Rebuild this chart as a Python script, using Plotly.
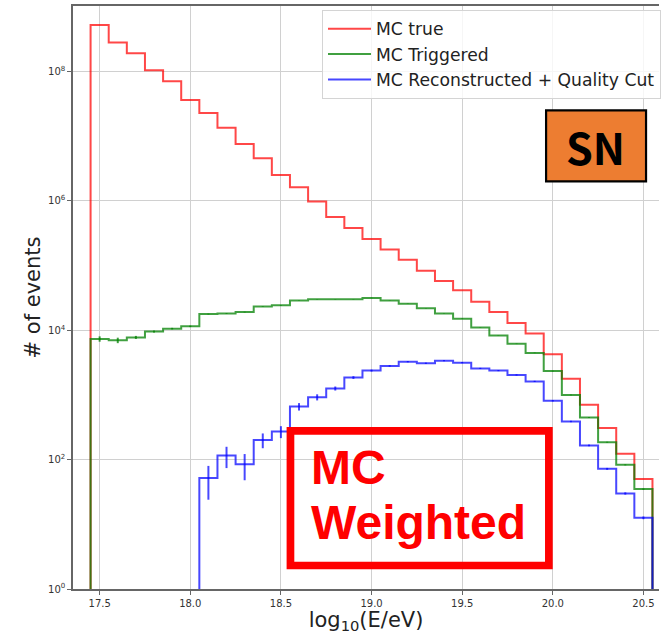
import numpy as np
import plotly.graph_objects as go

# Histogram binning in log10(E/eV)
bin_centers = [17.5, 17.6, 17.7, 17.8, 17.9, 18.0, 18.1, 18.2, 18.3, 18.4, 18.5,
               18.6, 18.7, 18.8, 18.9, 19.0, 19.1, 19.2, 19.3, 19.4, 19.5, 19.6,
               19.7, 19.8, 19.9, 20.0, 20.1, 20.2, 20.3, 20.4, 20.5]
bin_width = 0.1

# Weighted event counts per bin
mc_true = [5.25e8, 2.82e8, 1.91e8, 1.05e8, 7.08e7, 3.63e7, 2.29e7, 1.35e7, 7.59e6,
           4.57e6, 2.51e6, 1.62e6, 9.77e5, 5.62e5, 3.80e5, 2.57e5, 1.78e5, 1.23e5,
           8.32e4, 5.75e4, 4.17e4, 2.75e4, 1.91e4, 1.29e4, 8.91e3, 4.27e3, 1.78e3,
           708, 309, 123, 50]
mc_triggered = [7350, 7000, 7760, 9550, 10600, 11500, 17800, 18200, 19100, 23400,
                24300, 28800, 30200, 30200, 30200, 31600, 28800, 25700, 21900, 18200,
                15100, 11000, 8320, 6170, 4470, 2340, 1000, 447, 186, 83, 35]
mc_reco = [None, None, None, None, None, None, 52, 116, 85, 202, 272, 661, 923,
           1260, 1860, 2380, 2810, 3270, 3090, 3390, 3160, 2570, 2380, 2040, 1620,
           813, 389, 166, 72, 30, 12.6]

# Statistical uncertainties of the weighted counts
err_triggered = [700, 680, 420, 350, 300, 300, 260, 240, 230, 240, 230, 220, 200,
                 190, 180, 170, 160, 150, 130, 110, 100, 80, 60, 50, 40, 25, 12, 6,
                 3, 1.5, 0.8]
err_reco = [None, None, None, None, None, None, 28, 42, 37, 52, 57, 87, 100, 90,
            90, 80, 75, 75, 70, 70, 65, 55, 50, 45, 35, 20, 10, 5, 2.5, 1.2, 0.6]

labels = ["MC true", "MC Triggered", "MC Reconstructed + Quality Cut"]
colors = ["rgba(255,0,0,0.72)", "rgba(0,128,0,0.75)", "rgba(0,0,255,0.72)"]

x_ticks = [17.5, 18.0, 18.5, 19.0, 19.5, 20.0, 20.5]
y_ticks = [1, 1e2, 1e4, 1e6, 1e8]
y_ticktext = ["10<sup>0</sup>", "10<sup>2</sup>", "10<sup>4</sup>",
              "10<sup>6</sup>", "10<sup>8</sup>"]

FLOOR = 1e-3  # below the visible log range, so the outline drops to the axis


def step_outline(centers, values):
    """Outline of a step histogram: rises from the floor, steps, falls back."""
    pairs = [(c, v) for c, v in zip(centers, values) if v is not None]
    lefts = [round(c - bin_width / 2, 3) for c, _ in pairs]
    right = round(pairs[-1][0] + bin_width / 2, 3)
    vals = [v for _, v in pairs]
    xs = [lefts[0]] + lefts + [right, right]
    ys = [FLOOR] + vals + [vals[-1], FLOOR]
    return xs, ys


fig = go.Figure()

for name, vals, col in zip(labels, [mc_true, mc_triggered, mc_reco], colors):
    xs, ys = step_outline(bin_centers, vals)
    fig.add_trace(go.Scatter(x=xs, y=ys, mode="lines", name=name,
                             line=dict(color=col, width=2, shape="hv")))

# error bars at the bin centres
for vals, errs, col in [(mc_triggered, err_triggered, colors[1]),
                        (mc_reco, err_reco, colors[2])]:
    xs = [c for c, v in zip(bin_centers, vals) if v is not None]
    ys = [v for v in vals if v is not None]
    es = [e for e, v in zip(errs, vals) if v is not None]
    fig.add_trace(go.Scatter(x=xs, y=ys, mode="markers", showlegend=False,
                             marker=dict(size=1, color="rgba(0,0,0,0)"),
                             error_y=dict(type="data", array=es, visible=True,
                                          color=col, thickness=2, width=0),
                             hoverinfo="skip"))

# pixel -> paper helpers for the overlay boxes
L, R, T, B = 73, 661, 6, 589


def px(x):
    return (x - L) / (R - L)


def py(y):
    return (B - y) / (B - T)


shapes = [
    dict(type="rect", xref="paper", yref="paper",
         x0=px(547.7), x1=px(648.0), y0=py(181.3), y1=py(110.3),
         fillcolor="#ED7D31", line=dict(color="black", width=2.2), layer="above"),
    dict(type="rect", xref="paper", yref="paper",
         x0=px(291.2), x1=px(550.5), y0=py(565.5), y1=py(430.8),
         fillcolor="rgba(0,0,0,0)", line=dict(color="#FF0000", width=7.7),
         layer="above"),
]

BIG = 48  # font size of the "MC Weighted" label
annotations = [
    dict(text="<b>SN</b>", xref="paper", yref="paper", x=px(597.5), y=py(145.5),
         xanchor="center", yanchor="middle", showarrow=False,
         font=dict(family="Noto Sans CJK JP", size=43, color="black")),
    dict(text="<b>MC</b>", xref="paper", yref="paper", x=px(311),
         y=py(485 + 0.212 * BIG), xanchor="left", yanchor="bottom",
         showarrow=False, borderpad=0,
         font=dict(family="Liberation Sans", size=BIG, color="#FF0000")),
    dict(text="<b>Weighted</b>", xref="paper", yref="paper", x=px(311),
         y=py(540 + 0.212 * BIG), xanchor="left", yanchor="bottom",
         showarrow=False, borderpad=0,
         font=dict(family="Liberation Sans", size=BIG, color="#FF0000")),
]

fig.update_layout(
    width=661, height=634,
    margin=dict(l=L, r=661 - R, t=T, b=634 - B),
    paper_bgcolor="white", plot_bgcolor="white",
    font=dict(family="DejaVu Sans", color="#333"),
    shapes=shapes, annotations=annotations,
    legend=dict(x=px(323), y=py(10), xanchor="left", yanchor="top",
                itemwidth=43,
                bgcolor="rgba(255,255,255,0.8)", bordercolor="#d4d4d4",
                borderwidth=1, font=dict(family="DejaVu Sans", size=17.2,
                                         color="#222")),
)

fig.update_xaxes(
    range=[17.353, 20.586], tickvals=x_ticks,
    ticktext=[f"{t:.1f}" for t in x_ticks],
    showgrid=True, gridcolor="#d0d0d0", gridwidth=1.2,
    showline=True, linecolor="#666", linewidth=1.5, mirror=True,
    ticks="outside", ticklen=4, tickcolor="#666",
    tickfont=dict(size=10, color="#333"), zeroline=False,
    title=dict(text="log<sub>10</sub>(E/eV)", font=dict(size=21, color="#222"),
               standoff=6),
)
fig.update_yaxes(
    type="log", range=[0, 9.013], tickvals=y_ticks, ticktext=y_ticktext,
    showgrid=True, gridcolor="#d0d0d0", gridwidth=1.2,
    showline=True, linecolor="#666", linewidth=1.5, mirror=False,
    ticks="outside", ticklen=4, tickcolor="#666",
    tickfont=dict(size=10, color="#333"), zeroline=False,
    title=dict(text="# of events", font=dict(size=21, color="#222"), standoff=2),
)

fig.write_html("out.html")
